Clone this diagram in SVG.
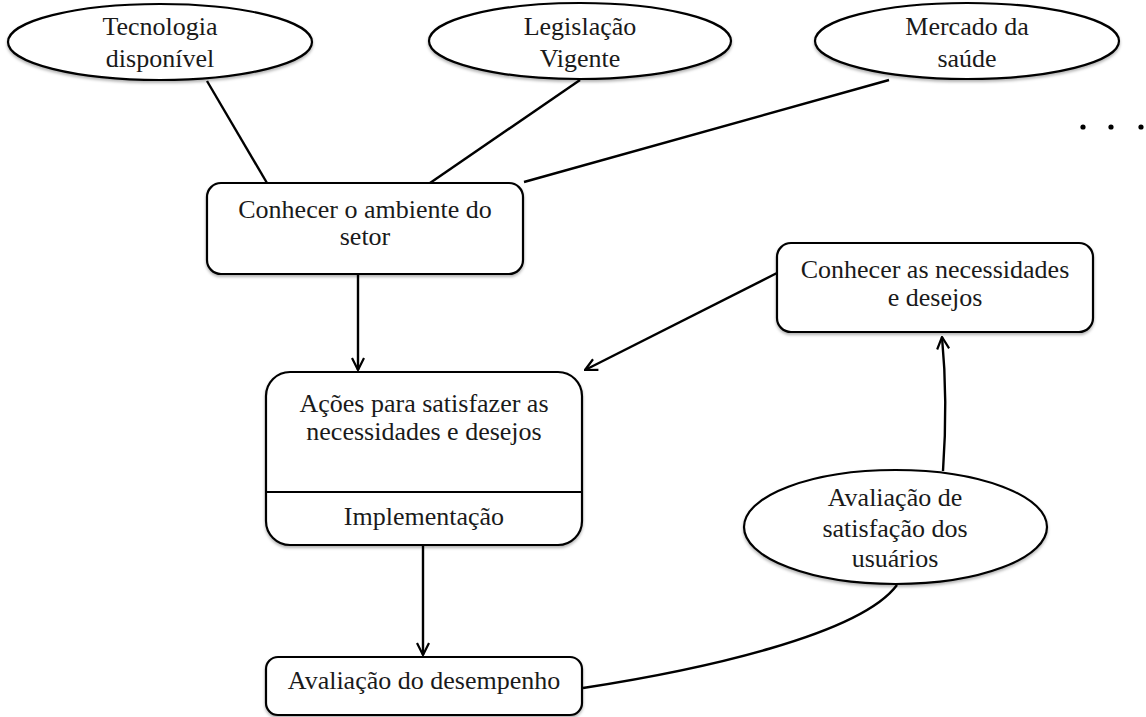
<svg xmlns="http://www.w3.org/2000/svg" width="1146" height="717" viewBox="0 0 1146 717">
<style>
.shape{fill:#fff;stroke:#000;stroke-width:2.2}
.conn{fill:none;stroke:#000;stroke-width:2.4}
text{font-family:"Liberation Serif","Times New Roman",serif;font-size:26px;fill:#1a1a1a;text-anchor:middle}
</style>
<defs>
<filter id="sh" x="-10%" y="-10%" width="120%" height="130%">
<feDropShadow dx="0" dy="2" stdDeviation="1.5" flood-color="#000" flood-opacity="0.3"/>
</filter>
<marker id="arr" viewBox="0 0 14 14" refX="13" refY="7" markerWidth="14" markerHeight="14" markerUnits="userSpaceOnUse" orient="auto">
<path d="M1,1 L13,7 L1,13" fill="none" stroke="#000" stroke-width="2.2"/>
</marker>
</defs>
<rect width="1146" height="717" fill="#fff"/>
<g id="connectors">
<line class="conn" x1="207" y1="81" x2="267" y2="183"/>
<line class="conn" x1="580" y1="80" x2="430" y2="183"/>
<line class="conn" x1="889" y1="80" x2="524" y2="182"/>
<line class="conn" x1="358" y1="274" x2="358" y2="370" marker-end="url(#arr)"/>
<line class="conn" x1="777" y1="273" x2="585" y2="370" marker-end="url(#arr)"/>
<line class="conn" x1="423" y1="545" x2="423" y2="655" marker-end="url(#arr)"/>
<path class="conn" d="M583,688 C700,670 860,635 897,585"/>
<path class="conn" d="M943,471 Q948,400 942,337" marker-end="url(#arr)"/>
</g>
<g id="n-tecnologia">
<ellipse class="shape" filter="url(#sh)" cx="160" cy="42" rx="152" ry="38"/>
<text x="160" y="35">Tecnologia</text>
<text x="160" y="67">disponível</text>
</g>
<g id="n-legislacao">
<ellipse class="shape" filter="url(#sh)" cx="580" cy="41" rx="151" ry="38"/>
<text x="580" y="35">Legislação</text>
<text x="580" y="67">Vigente</text>
</g>
<g id="n-mercado">
<ellipse class="shape" filter="url(#sh)" cx="967" cy="41" rx="152" ry="38"/>
<text x="967" y="35">Mercado da</text>
<text x="967" y="67">saúde</text>
</g>
<g id="n-dots">
<circle cx="1083" cy="127" r="2.6" fill="#000"/>
<circle cx="1111" cy="127" r="2.6" fill="#000"/>
<circle cx="1141" cy="127" r="2.6" fill="#000"/>
</g>
<g id="n-ambiente">
<rect class="shape" filter="url(#sh)" x="207" y="183" width="316" height="91" rx="14"/>
<text x="365" y="218">Conhecer o ambiente do</text>
<text x="365" y="245">setor</text>
</g>
<g id="n-necessidades">
<rect class="shape" filter="url(#sh)" x="777" y="243" width="316" height="89" rx="14"/>
<text x="935" y="278">Conhecer as necessidades</text>
<text x="935" y="306">e desejos</text>
</g>
<g id="n-acoes">
<rect class="shape" filter="url(#sh)" x="266" y="372" width="316" height="173" rx="24"/>
<line x1="266" y1="492" x2="582" y2="492" stroke="#000" stroke-width="2.2"/>
<text x="424" y="412">Ações para satisfazer as</text>
<text x="424" y="440">necessidades e desejos</text>
<text x="424" y="525">Implementação</text>
</g>
<g id="n-desempenho">
<rect class="shape" filter="url(#sh)" x="266" y="657" width="316" height="58" rx="12"/>
<text x="424" y="689">Avaliação do desempenho</text>
</g>
<g id="n-satisfacao">
<ellipse class="shape" filter="url(#sh)" cx="895.5" cy="527" rx="151.5" ry="57"/>
<text x="895" y="506">Avaliação de</text>
<text x="895" y="537">satisfação dos</text>
<text x="895" y="567">usuários</text>
</g>
</svg>
